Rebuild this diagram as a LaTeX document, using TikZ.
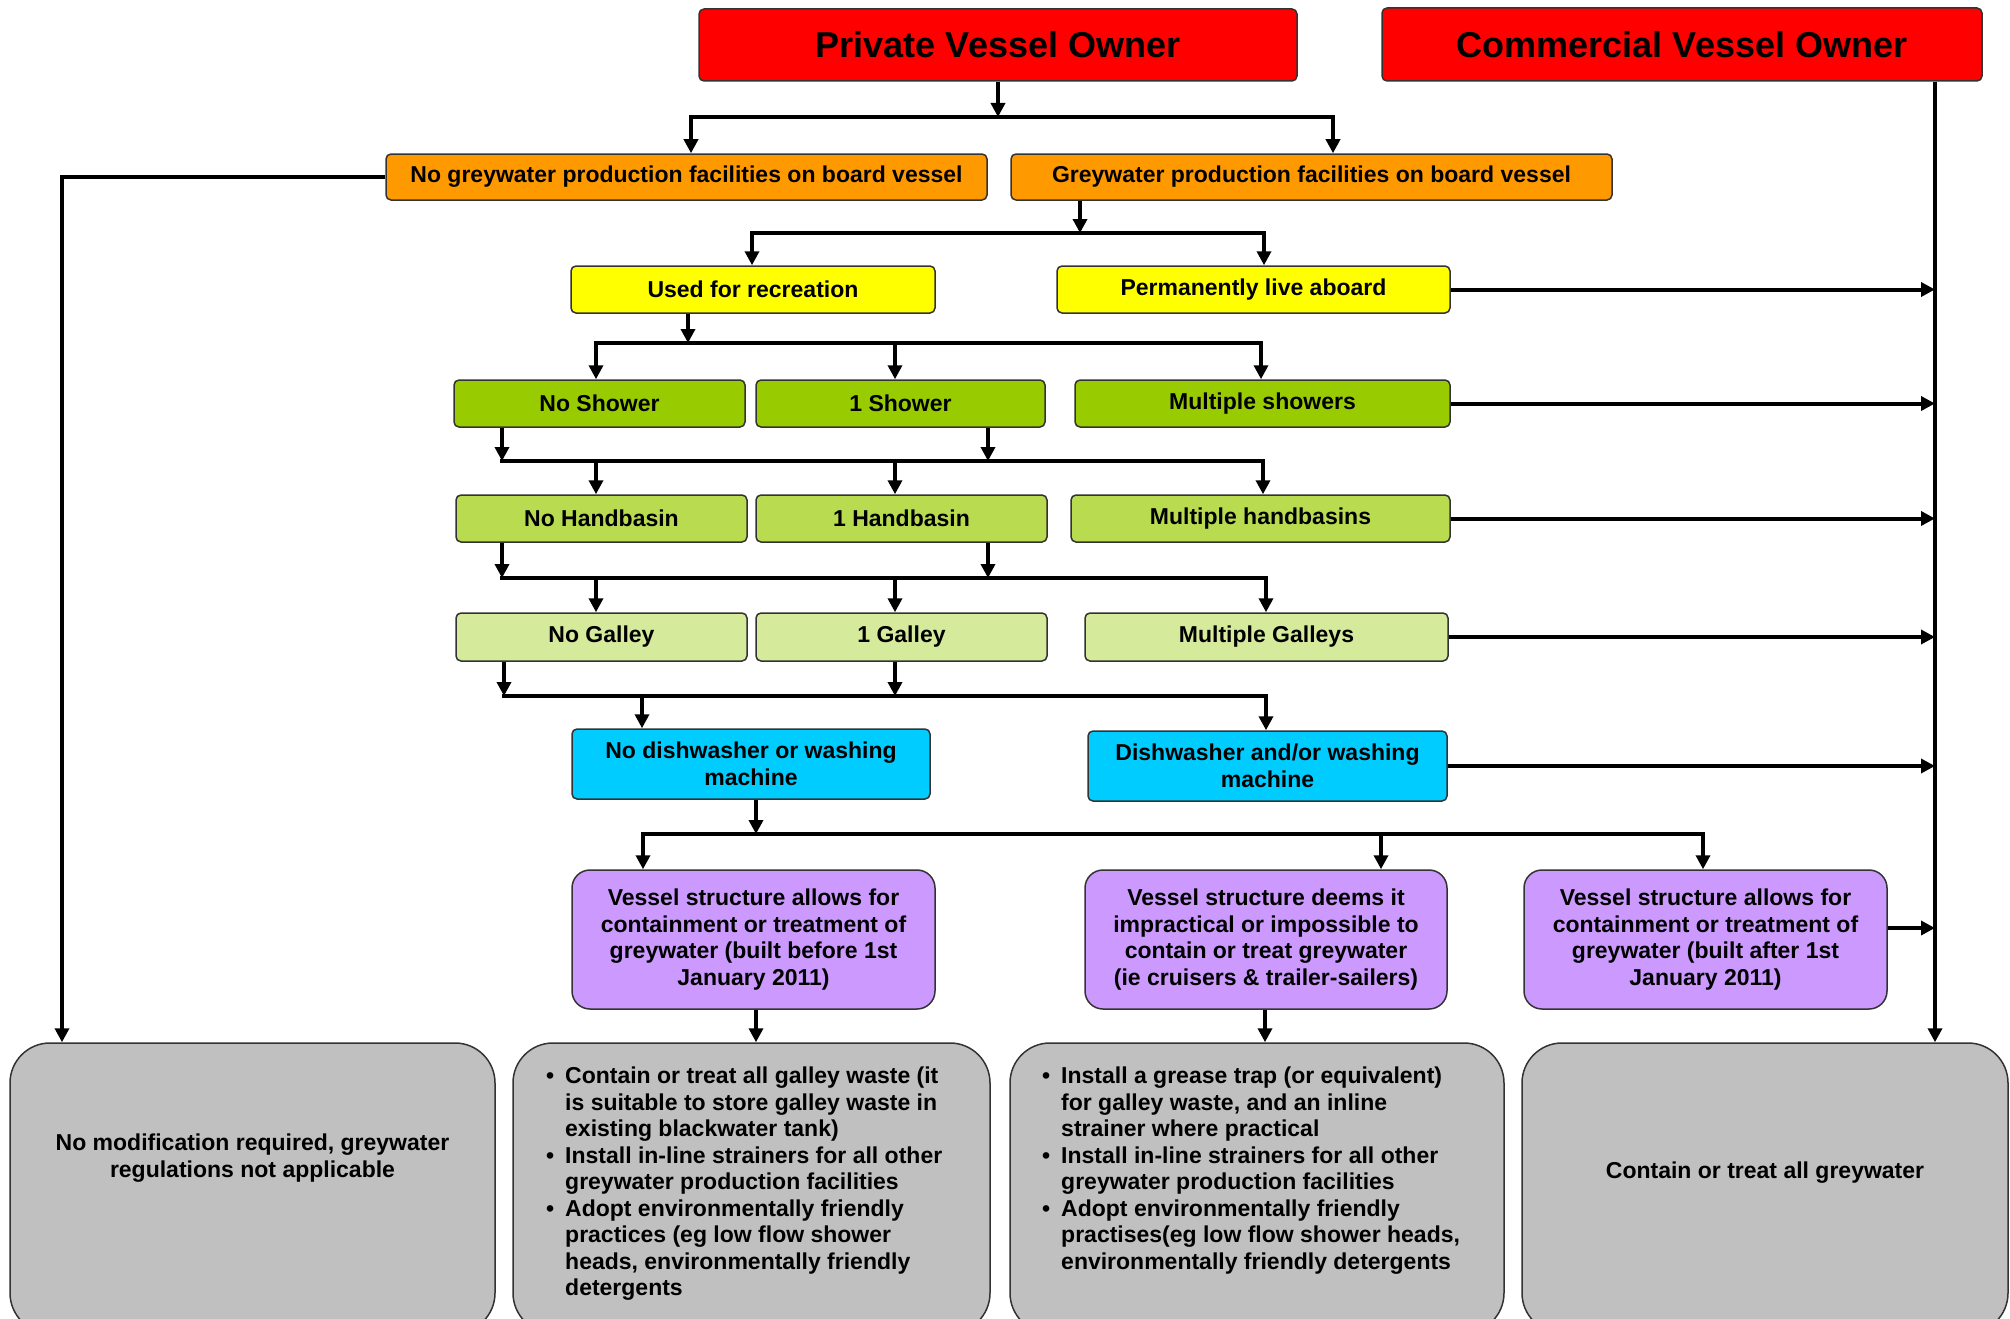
\documentclass[tikz,border=0pt]{standalone}
\usepackage{fontspec}
\setmainfont{Liberation Sans}
\usetikzlibrary{arrows.meta,calc}
\definecolor{cred}{HTML}{FF0000}
\definecolor{corange}{HTML}{FF9900}
\definecolor{cyellow}{HTML}{FFFF00}
\definecolor{cgreenA}{HTML}{99CC00}
\definecolor{cgreenB}{HTML}{B8DB50}
\definecolor{cgreenC}{HTML}{D6EA9C}
\definecolor{ccyan}{HTML}{00CCFF}
\definecolor{cpurple}{HTML}{CC99FF}
\definecolor{cgrey}{HTML}{C0C0C0}
\newcommand{\bul}{\makebox[19pt][l]{\textbullet}}
\newcommand{\ind}{\hspace*{19pt}}
\begin{document}
\begin{tikzpicture}[x=1pt,y=-1pt,
  box/.style={draw=black!80, line width=1.5pt, rounded corners=5pt, inner sep=0pt, align=center,
    font=\fontsize{23}{26.5}\selectfont\bfseries},
  bigbox/.style={box, rounded corners=18pt},
  greybox/.style={box, fill=cgrey, rounded corners=40pt},
  txt/.style={inner sep=0pt, font=\fontsize{23}{26.5}\selectfont\bfseries},
  conn/.style={line width=4pt, line cap=rect},
  arr/.style={line width=4pt, -{Triangle[length=14pt,width=14pt]}},
]
\useasboundingbox (0,0) rectangle (2010,1319);

% owners
\node[box, fill=cred, minimum width=598pt, minimum height=72pt, font=\fontsize{36}{40}\selectfont\bfseries] (pvo) at (998,45) {Private Vessel Owner};
\node[box, fill=cred, minimum width=600pt, minimum height=73pt, font=\fontsize{36}{40}\selectfont\bfseries] (cvo) at (1682,44.5) {Commercial Vessel Owner};

% orange
\node[box, fill=corange, minimum width=601pt, minimum height=46pt] (nogw) at (686.5,177) {No greywater production facilities on board vessel};
\node[box, fill=corange, minimum width=601pt, minimum height=46pt] (gw) at (1311.5,177) {Greywater production facilities on board vessel};

% yellow
\node[box, fill=cyellow, minimum width=364pt, minimum height=47pt] (rec) at (753,289.5) {Used for recreation};
\node[box, fill=cyellow, minimum width=393pt, minimum height=47pt] (live) at (1253.5,289.5) {Permanently live aboard};

% showers
\node[box, fill=cgreenA, minimum width=291pt, minimum height=47pt] (nosh) at (599.5,403.5) {No Shower};
\node[box, fill=cgreenA, minimum width=289pt, minimum height=47pt] (sh1) at (900.5,403.5) {1 Shower};
\node[box, fill=cgreenA, minimum width=375pt, minimum height=47pt] (shm) at (1262.5,403.5) {Multiple showers};

% handbasins
\node[box, fill=cgreenB, minimum width=291pt, minimum height=47pt] (nohb) at (601.5,518.5) {No Handbasin};
\node[box, fill=cgreenB, minimum width=291pt, minimum height=47pt] (hb1) at (901.5,518.5) {1 Handbasin};
\node[box, fill=cgreenB, minimum width=379pt, minimum height=47pt] (hbm) at (1260.5,518.5) {Multiple handbasins};

% galleys
\node[box, fill=cgreenC, minimum width=291pt, minimum height=48pt] (nog) at (601.5,637) {No Galley};
\node[box, fill=cgreenC, minimum width=291pt, minimum height=48pt] (g1) at (901.5,637) {1 Galley};
\node[box, fill=cgreenC, minimum width=363pt, minimum height=48pt] (gm) at (1266.5,637) {Multiple Galleys};

% dishwasher
\node[box, fill=ccyan, minimum width=358pt, minimum height=70pt] (nodw) at (751,764) {No dishwasher or washing\\machine};
\node[box, fill=ccyan, minimum width=359pt, minimum height=70pt] (dw) at (1267.5,766) {Dishwasher and/or washing\\machine};

% purple
\node[bigbox, fill=cpurple, minimum width=363pt, minimum height=139pt] (p1) at (753.5,939.5) {Vessel structure allows for\\containment or treatment of\\greywater (built before 1st\\January 2011)};
\node[bigbox, fill=cpurple, minimum width=362pt, minimum height=139pt] (p2) at (1266,939.5) {Vessel structure deems it\\impractical or impossible to\\contain or treat greywater\\(ie cruisers \& trailer-sailers)};
\node[bigbox, fill=cpurple, minimum width=363pt, minimum height=139pt] (p3) at (1705.5,939.5) {Vessel structure allows for\\containment or treatment of\\greywater (built after 1st\\January 2011)};

% grey outcome boxes
\node[greybox, minimum width=485pt, minimum height=290pt] (gr1) at (252.5,1188) {};
\node[greybox, minimum width=477pt, minimum height=290pt] (gr2) at (751.5,1188) {};
\node[greybox, minimum width=494pt, minimum height=290pt] (gr3) at (1257,1188) {};
\node[greybox, minimum width=486pt, minimum height=290pt] (gr4) at (1765,1188) {};

\node[txt, align=center] (gr1t) at (252.5,1158) {No modification required, greywater\\regulations not applicable};
\node[txt, align=center] (gr4t) at (1765,1173) {Contain or treat all greywater};
\node[txt, align=left, anchor=north west] (gr2t) at (546,1067) {\bul Contain or treat all galley waste (it\\\ind is suitable to store galley waste in\\\ind existing blackwater tank)\\\bul Install in-line strainers for all other\\\ind greywater production facilities\\\bul Adopt environmentally friendly\\\ind practices (eg low flow shower\\\ind heads, environmentally friendly\\\ind detergents};
\node[txt, align=left, anchor=north west] (gr3t) at (1042,1067) {\bul Install a grease trap (or equivalent)\\\ind for galley waste, and an inline\\\ind strainer where practical\\\bul Install in-line strainers for all other\\\ind greywater production facilities\\\bul Adopt environmentally friendly\\\ind practises(eg low flow shower heads,\\\ind environmentally friendly detergents};

% ---------- connectors ----------
\coordinate (cv) at (1935,0);
\coordinate (lc) at (62,177);

% owner split
\coordinate (b1) at (998,117);
\coordinate (b1l) at (691,117);
\coordinate (b1r) at (1333,117);
\draw[arr] (pvo.south) -- (b1);
\draw[conn] (b1l) -- (b1r);
\draw[arr] (b1l) -- (b1l |- nogw.north);
\draw[arr] (b1r) -- (b1r |- gw.north);

% no greywater -> grey1
\draw[arr] (nogw.west) -- (lc) -- (lc |- gr1.north);

% commercial line
\draw[arr] (cvo.south -| cv) -- (cv |- gr4.north);

% greywater split
\coordinate (b2) at (1080,233);
\coordinate (b2l) at (752,233);
\coordinate (b2r) at (1264,233);
\draw[arr] (b2 |- gw.south) -- (b2);
\draw[conn] (b2l) -- (b2r);
\draw[arr] (b2l) -- (b2l |- rec.north);
\draw[arr] (b2r) -- (b2r |- live.north);
\draw[arr] (live.east) -- (live.east -| cv);

% recreation split
\coordinate (b3) at (688,343);
\coordinate (b3a) at (596,343);
\coordinate (b3b) at (895,343);
\coordinate (b3c) at (1261,343);
\draw[arr] (b3 |- rec.south) -- (b3);
\draw[conn] (b3a) -- (b3c);
\draw[arr] (b3a) -- (b3a |- nosh.north);
\draw[arr] (b3b) -- (b3b |- sh1.north);
\draw[arr] (b3c) -- (b3c |- shm.north);
\draw[arr] (shm.east) -- (shm.east -| cv);

% shower -> handbasin
\coordinate (b4l) at (502,461);
\coordinate (b4m) at (988,461);
\coordinate (b4a) at (596,461);
\coordinate (b4b) at (895,461);
\coordinate (b4c) at (1263,461);
\draw[arr] (b4l |- nosh.south) -- (b4l);
\draw[arr] (b4m |- sh1.south) -- (b4m);
\draw[conn] (b4l) -- (b4c);
\draw[arr] (b4a) -- (b4a |- nohb.north);
\draw[arr] (b4b) -- (b4b |- hb1.north);
\draw[arr] (b4c) -- (b4c |- hbm.north);
\draw[arr] (hbm.east) -- (hbm.east -| cv);

% handbasin -> galley
\coordinate (b5l) at (502,578);
\coordinate (b5m) at (988,578);
\coordinate (b5a) at (596,578);
\coordinate (b5b) at (895,578);
\coordinate (b5c) at (1266,578);
\draw[arr] (b5l |- nohb.south) -- (b5l);
\draw[arr] (b5m |- hb1.south) -- (b5m);
\draw[conn] (b5l) -- (b5c);
\draw[arr] (b5a) -- (b5a |- nog.north);
\draw[arr] (b5b) -- (b5b |- g1.north);
\draw[arr] (b5c) -- (b5c |- gm.north);
\draw[arr] (gm.east) -- (gm.east -| cv);

% galley -> dishwasher
\coordinate (b6l) at (504,696);
\coordinate (b6m) at (895,696);
\coordinate (b6a) at (642,696);
\coordinate (b6c) at (1266,696);
\draw[arr] (b6l |- nog.south) -- (b6l);
\draw[arr] (b6m |- g1.south) -- (b6m);
\draw[conn] (b6l) -- (b6c);
\draw[arr] (b6a) -- (b6a |- nodw.north);
\draw[arr] (b6c) -- (b6c |- dw.north);
\draw[arr] (dw.east) -- (dw.east -| cv);

% no dishwasher -> structure
\coordinate (b7) at (756,834);
\coordinate (b7a) at (643,834);
\coordinate (b7b) at (1381,834);
\coordinate (b7c) at (1703,834);
\draw[arr] (b7 |- nodw.south) -- (b7);
\draw[conn] (b7a) -- (b7c);
\draw[arr] (b7a) -- (b7a |- p1.north);
\draw[arr] (b7b) -- (b7b |- p2.north);
\draw[arr] (b7c) -- (b7c |- p3.north);
\draw[arr] ([yshift=11.5pt]p3.east) -- ([yshift=11.5pt]p3.east -| cv);

% structure -> outcomes
\coordinate (b8a) at (756,0);
\coordinate (b8b) at (1265,0);
\draw[arr] (b8a |- p1.south) -- (b8a |- gr2.north);
\draw[arr] (b8b |- p2.south) -- (b8b |- gr3.north);
\end{tikzpicture}
\end{document}
